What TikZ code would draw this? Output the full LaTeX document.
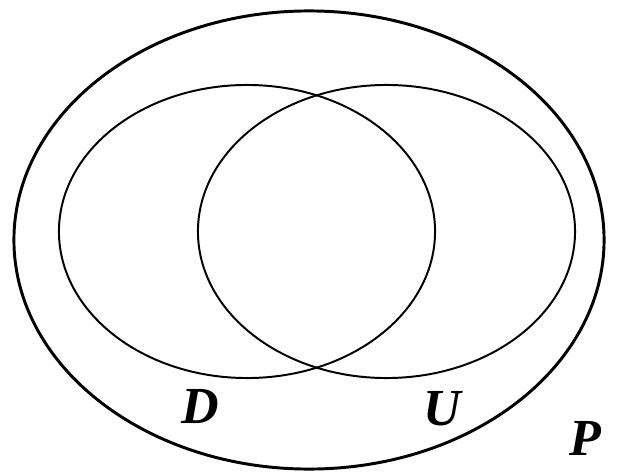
\documentclass[tikz,border=0pt]{standalone}
\usepackage{fontspec}
\setmainfont{Liberation Serif}
\usetikzlibrary{shapes.geometric}

\begin{document}
\begin{tikzpicture}[x=0.025cm,y=-0.025cm]
\tikzset{
  setring/.style={draw=black,ellipse,inner sep=0pt,line width=1.4pt},
  setlabel/.style={font=\fontsize{37}{40}\selectfont\bfseries\itshape,inner sep=0pt}
}
\useasboundingbox (0,0) rectangle (618,473);
\node[setring,line width=2.1pt,minimum width=14.75cm,minimum height=11.45cm] (P) at (309,240) {};
\node[setring,minimum width=9.4cm,minimum height=7.325cm] (D) at (247,231.5) {};
\node[setring,minimum width=9.425cm,minimum height=7.325cm] (U) at (386.5,231.5) {};
\node[setlabel] (Dlab) at (200,407) {D};
\node[setlabel] (Ulab) at (442,409) {U};
\node[setlabel] (Plab) at (585,438) {P};
\end{tikzpicture}
\end{document}
